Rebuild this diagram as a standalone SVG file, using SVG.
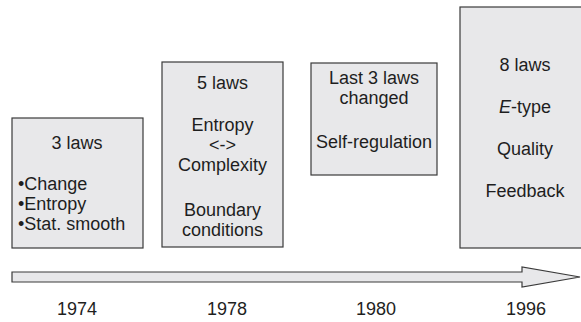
<svg xmlns="http://www.w3.org/2000/svg" width="581" height="322" viewBox="0 0 581 322">
<style>
.box{fill:#e8e8ea;stroke:#3a3a3a;stroke-width:1.2}
text{font-family:"Liberation Sans",Arial,sans-serif;font-size:18px;fill:#1e1e1e}
.c{text-anchor:middle}
</style>
<rect width="581" height="322" fill="#ffffff"/>
<g id="node-1974">
<rect class="box" x="12" y="118" width="131" height="130"/>
<text class="c" x="77" y="149">3 laws</text>
<text x="18" y="190">•Change</text>
<text x="18" y="210">•Entropy</text>
<text x="18" y="230">•Stat. smooth</text>
</g>
<g id="node-1978">
<rect class="box" x="162" y="62" width="121" height="185"/>
<text class="c" x="222.5" y="89">5 laws</text>
<text class="c" x="222.5" y="131">Entropy</text>
<text class="c" x="222.5" y="151">&lt;-&gt;</text>
<text class="c" x="222.5" y="171">Complexity</text>
<text class="c" x="222.5" y="216">Boundary</text>
<text class="c" x="222.5" y="236">conditions</text>
</g>
<g id="node-1980">
<rect class="box" x="311" y="63" width="126" height="112"/>
<text class="c" x="374" y="84">Last 3 laws</text>
<text class="c" x="374" y="104">changed</text>
<text class="c" x="374" y="148">Self-regulation</text>
</g>
<g id="node-1996">
<rect class="box" x="460" y="7" width="130" height="241"/>
<text class="c" x="525" y="71">8 laws</text>
<text class="c" x="525" y="113"><tspan font-style="italic">E</tspan>-type</text>
<text class="c" x="525" y="155">Quality</text>
<text class="c" x="525" y="197">Feedback</text>
</g>
<g id="connectors">
<path d="M12,272 L522,272 L522,267 L580,277 L522,287 L522,282 L12,282 Z" fill="#e8e8ea" stroke="#3a3a3a" stroke-width="1.2" stroke-linejoin="miter"/>
</g>
<g id="labels">
<text class="c" x="77" y="315">1974</text>
<text class="c" x="227" y="315">1978</text>
<text class="c" x="376" y="315">1980</text>
<text class="c" x="526" y="315">1996</text>
</g>
</svg>
